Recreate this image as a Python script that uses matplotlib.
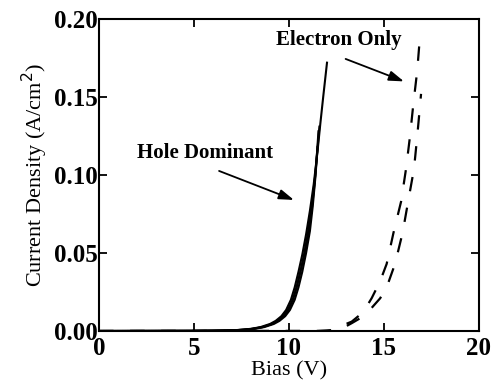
import numpy as np
import matplotlib.pyplot as plt

plt.rcParams['font.family'] = ['Liberation Serif', 'DejaVu Serif']

# Hole dominant devices (solid)
hole_bias = [
    [0, 5, 6, 7, 7.5, 8, 8.5, 9.0, 9.3, 9.6, 9.85, 10.1, 10.3, 10.5, 10.7, 10.9, 11.1, 11.3, 11.5, 11.65, 11.8, 11.9, 12.0],
    [0, 5, 6, 7, 7.6, 8.1, 8.6, 9.1, 9.4, 9.7, 9.95, 10.2, 10.4, 10.6, 10.8, 11.0, 11.2, 11.35, 11.5],
    [0, 5, 6, 7, 7.7, 8.2, 8.7, 9.2, 9.5, 9.8, 10.05, 10.3, 10.5, 10.7, 10.9, 11.1, 11.25, 11.4, 11.55],
    [0, 5, 6, 7, 7.6, 8.1, 8.6, 9.1, 9.4, 9.7, 9.95, 10.2, 10.4, 10.6, 10.8, 11.0, 11.2, 11.4, 11.6],
]
hole_j = [
    [0, 0.0001, 0.0002, 0.0004, 0.0008, 0.0014, 0.0025, 0.0045, 0.0065, 0.0095, 0.0135, 0.020, 0.028, 0.038, 0.049, 0.062, 0.077, 0.094, 0.115, 0.133, 0.150, 0.161, 0.172],
    [0, 0.0001, 0.0002, 0.0004, 0.0008, 0.0014, 0.0025, 0.0045, 0.0065, 0.0095, 0.0135, 0.020, 0.028, 0.038, 0.049, 0.062, 0.078, 0.095, 0.118],
    [0, 0.0001, 0.0002, 0.0004, 0.0008, 0.0014, 0.0025, 0.0045, 0.0065, 0.0095, 0.0135, 0.020, 0.028, 0.038, 0.050, 0.064, 0.080, 0.100, 0.128],
    [0, 0.0001, 0.0002, 0.0004, 0.0008, 0.0014, 0.0025, 0.0045, 0.0065, 0.0095, 0.0135, 0.020, 0.028, 0.038, 0.049, 0.063, 0.080, 0.102, 0.131],
]

# Electron only devices (dashed)
elec_bias = [
    [0, 11.5, 12.2, 12.7, 13.3, 13.9, 14.35, 14.8, 15.14, 15.5, 15.9, 16.16, 16.37, 16.54, 16.75, 16.9],
    [0, 12.0, 12.7, 13.3, 14.0, 14.8, 15.2, 15.58, 15.98, 16.27, 16.58, 16.75, 16.9, 16.95],
]
elec_j = [
    [0, 0, 0.0005, 0.003, 0.006, 0.012, 0.021, 0.032, 0.043, 0.063, 0.083, 0.104, 0.125, 0.145, 0.167, 0.190],
    [0, 0, 0.001, 0.005, 0.010, 0.021, 0.030, 0.043, 0.063, 0.083, 0.104, 0.125, 0.145, 0.152],
]

fig = plt.figure(figsize=(4.93, 3.9), dpi=100)
ax = fig.add_axes([0.2008, 0.1513, 0.7708, 0.8])

for x, y in zip(hole_bias, hole_j):
    ax.plot(x, y, color='black', lw=1.5)
for x, y in zip(elec_bias, elec_j):
    ax.plot(x, y, color='black', lw=1.6, dashes=(6.5, 7.5))

ax.set_xlim(0, 20)
ax.set_ylim(0, 0.2)
ax.set_xticks([0, 5, 10, 15, 20])
ax.set_yticks([0, 0.05, 0.10, 0.15, 0.20])
ax.set_yticklabels(['0.00', '0.05', '0.10', '0.15', '0.20'])
ax.tick_params(direction='in', length=6, width=1.3, top=True, right=True,
               labelsize=18, pad=1)
ax.tick_params(axis='x', pad=4)
for lab in ax.get_xticklabels() + ax.get_yticklabels():
    lab.set_fontweight('bold')
for s in ax.spines.values():
    s.set_linewidth(1.5)

ax.set_xlabel('Bias (V)', fontsize=16, labelpad=1)
ax.set_ylabel('Current Density (A/cm$^2$)', fontsize=16, labelpad=3)

arrow = dict(arrowstyle='-|>,head_length=0.9,head_width=0.3', color='black',
             lw=1.3, shrinkA=0, shrinkB=0)
ax.text(5.6, 0.114, 'Hole Dominant', fontsize=15, fontweight='bold',
        ha='center', va='center')
ax.annotate('', xy=(10.26, 0.084), xytext=(6.32, 0.1026), arrowprops=arrow)
ax.text(12.6, 0.1865, 'Electron Only', fontsize=15, fontweight='bold',
        ha='center', va='center')
ax.annotate('', xy=(16.05, 0.160), xytext=(12.98, 0.1744), arrowprops=arrow)

fig.savefig('out.png', dpi=100)
